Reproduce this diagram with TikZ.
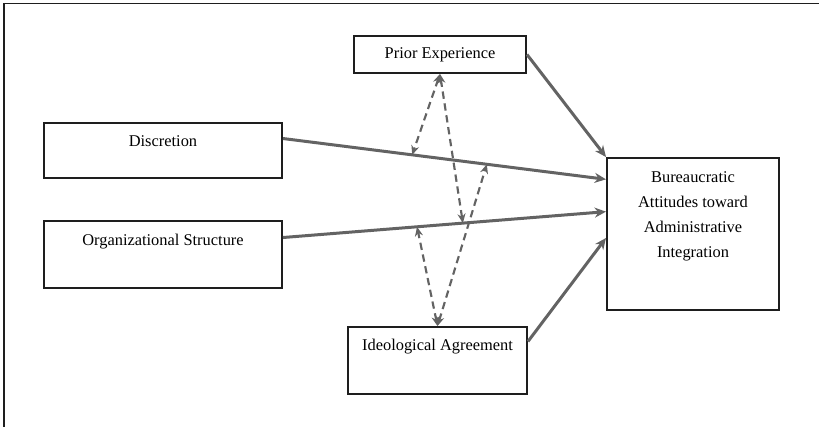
\documentclass[tikz,border=0pt]{standalone}
\usepackage{fontspec}
\setmainfont{Liberation Serif}
\usetikzlibrary{arrows.meta,calc}
\definecolor{boxblack}{HTML}{1E1E1E}
\definecolor{linegray}{HTML}{636363}
\tikzset{
	box/.style={draw=boxblack,line width=1.5pt,inner sep=0pt,
		font=\fontsize{12.3}{18.75}\selectfont,align=center},
	link/.style={->,draw=linegray,line width=2.25pt},
	corr/.style={<->,draw=linegray,line width=1.6pt,
		dash pattern=on 5.5pt off 3.5pt,
		>={Stealth[length=7pt,width=6pt]}}
}
\begin{document}
\begin{tikzpicture}[x=0.75pt,y=-0.75pt,>={Stealth[length=8.5pt,width=7.5pt]}]
			\useasboundingbox (0,0) rectangle (819,427);
			\draw[boxblack,line width=1pt] (4,427) -- (4,3.5) -- (819,3.5);
			\node[box,minimum width=129pt,minimum height=27.75pt] (prior)
			at (440,54.5) {Prior Experience};
			\node[box,minimum width=178.5pt,text height=17.5pt,
			text depth=23.75pt] (disc) at (163,150.5) {Discretion};
			\node[box,minimum width=178.5pt,text height=18.75pt,
			text depth=31.5pt] (org) at (163,254.5) {Organizational Structure};
			\node[box,minimum width=134.25pt,text height=18pt,
			text depth=32.25pt] (ideo) at (437.5,360.5) {Ideological Agreement};
			\node[box,minimum width=129pt,text height=74.65pt,
			text depth=39.35pt] (bur) at (693,234)
			{Bureaucratic\\Attitudes toward\\Administrative\\Integration};
			\draw[link] (prior.east) -- (bur.north west);
			\draw[link] ($(disc.north east)!0.29!(disc.south east)$) --
			coordinate[pos=0.4] (dA) coordinate[pos=0.631] (dB)
			($(bur.north west)!0.145!(bur.south west)$);
			\draw[link] ($(org.north east)!0.254!(org.south east)$) --
			coordinate[pos=0.415] (oA) coordinate[pos=0.557] (oB)
			($(bur.north west)!0.355!(bur.south west)$);
			\draw[link] ($(ideo.north east)!0.224!(ideo.south east)$) --
			($(bur.north west)!0.526!(bur.south west)$);
			\draw[corr] (prior.south) -- (dA);
			\draw[corr] (prior.south) -- (oB);
			\draw[corr] (ideo.north) -- (oA);
			\draw[corr] (ideo.north) -- (dB);
		\end{tikzpicture}
\end{document}
